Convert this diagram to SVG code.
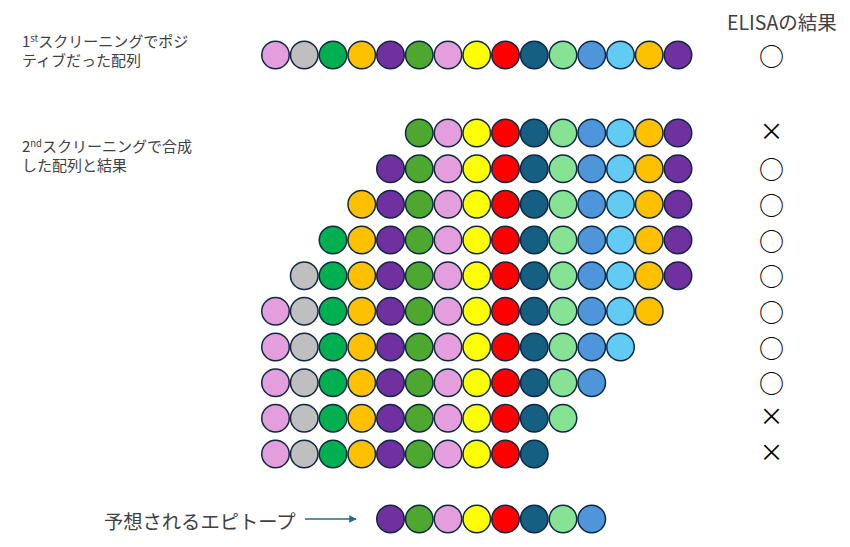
<svg xmlns="http://www.w3.org/2000/svg" width="850" height="547" viewBox="0 0 850 547">
<style>
text{font-family:"Noto Sans CJK JP","Noto Sans",sans-serif;fill:#404040}
.lbl{font-size:15px}
.mk{font-size:25px;fill:#000;text-anchor:middle}
.x{font-size:24px;fill:#000;text-anchor:middle}
circle{stroke:#0E2841;stroke-width:1.5}
.pk{fill:#E49EDD}.gy{fill:#BFBFBF}.gn{fill:#00B050}.or{fill:#FFC000}.pu{fill:#7030A0}.gr{fill:#4EA72E}
.ye{fill:#FFFF00}.rd{fill:#FF0000}.db{fill:#156082}.lg{fill:#86E394}.bl{fill:#4E95D9}.lb{fill:#61CBF3}
</style>
<defs>
<marker id="ah" viewBox="0 0 10 10" refX="9" refY="5" markerWidth="5" markerHeight="5" orient="auto"><path d="M0,0L10,5L0,10z" fill="#1F6B8A"/></marker>
</defs>
<g id="labels">
<text class="lbl" x="22" y="46.5">1<tspan font-size="9.5" dy="-5">st</tspan><tspan dy="5">スクリーニングでポジ</tspan></text>
<text class="lbl" x="22" y="65.5">ティブだった配列</text>
<text class="lbl" x="22" y="152">2<tspan font-size="9.5" dy="-5">nd</tspan><tspan dy="5">スクリーニングで合成</tspan></text>
<text class="lbl" x="22" y="171">した配列と結果</text>
<text x="727" y="30" font-size="19.5">ELISAの結果</text>
<text x="104" y="529" font-size="19.3">予想されるエピトープ</text>
</g>
<g id="connectors">
<line x1="305" y1="519" x2="356" y2="519" stroke="#1F6B8A" stroke-width="1.5" marker-end="url(#ah)"/>
</g>
<g id="row0">
<circle cx="275.5" cy="55" r="13.75" class="pk"/><circle cx="304.25" cy="55" r="13.75" class="gy"/><circle cx="333" cy="55" r="13.75" class="gn"/><circle cx="361.75" cy="55" r="13.75" class="or"/><circle cx="390.5" cy="55" r="13.75" class="pu"/><circle cx="419.25" cy="55" r="13.75" class="gr"/><circle cx="448" cy="55" r="13.75" class="pk"/><circle cx="476.75" cy="55" r="13.75" class="ye"/><circle cx="505.5" cy="55" r="13.75" class="rd"/><circle cx="534.25" cy="55" r="13.75" class="db"/><circle cx="563" cy="55" r="13.75" class="lg"/><circle cx="591.75" cy="55" r="13.75" class="bl"/><circle cx="620.5" cy="55" r="13.75" class="lb"/><circle cx="649.25" cy="55" r="13.75" class="or"/><circle cx="678" cy="55" r="13.75" class="pu"/>
</g>
<g id="row1">
<circle cx="419.25" cy="133" r="13.75" class="gr"/><circle cx="448" cy="133" r="13.75" class="pk"/><circle cx="476.75" cy="133" r="13.75" class="ye"/><circle cx="505.5" cy="133" r="13.75" class="rd"/><circle cx="534.25" cy="133" r="13.75" class="db"/><circle cx="563" cy="133" r="13.75" class="lg"/><circle cx="591.75" cy="133" r="13.75" class="bl"/><circle cx="620.5" cy="133" r="13.75" class="lb"/><circle cx="649.25" cy="133" r="13.75" class="or"/><circle cx="678" cy="133" r="13.75" class="pu"/>
</g>
<g id="row2">
<circle cx="390.5" cy="168.7" r="13.75" class="pu"/><circle cx="419.25" cy="168.7" r="13.75" class="gr"/><circle cx="448" cy="168.7" r="13.75" class="pk"/><circle cx="476.75" cy="168.7" r="13.75" class="ye"/><circle cx="505.5" cy="168.7" r="13.75" class="rd"/><circle cx="534.25" cy="168.7" r="13.75" class="db"/><circle cx="563" cy="168.7" r="13.75" class="lg"/><circle cx="591.75" cy="168.7" r="13.75" class="bl"/><circle cx="620.5" cy="168.7" r="13.75" class="lb"/><circle cx="649.25" cy="168.7" r="13.75" class="or"/><circle cx="678" cy="168.7" r="13.75" class="pu"/>
</g>
<g id="row3">
<circle cx="361.75" cy="204.3" r="13.75" class="or"/><circle cx="390.5" cy="204.3" r="13.75" class="pu"/><circle cx="419.25" cy="204.3" r="13.75" class="gr"/><circle cx="448" cy="204.3" r="13.75" class="pk"/><circle cx="476.75" cy="204.3" r="13.75" class="ye"/><circle cx="505.5" cy="204.3" r="13.75" class="rd"/><circle cx="534.25" cy="204.3" r="13.75" class="db"/><circle cx="563" cy="204.3" r="13.75" class="lg"/><circle cx="591.75" cy="204.3" r="13.75" class="bl"/><circle cx="620.5" cy="204.3" r="13.75" class="lb"/><circle cx="649.25" cy="204.3" r="13.75" class="or"/><circle cx="678" cy="204.3" r="13.75" class="pu"/>
</g>
<g id="row4">
<circle cx="333" cy="240" r="13.75" class="gn"/><circle cx="361.75" cy="240" r="13.75" class="or"/><circle cx="390.5" cy="240" r="13.75" class="pu"/><circle cx="419.25" cy="240" r="13.75" class="gr"/><circle cx="448" cy="240" r="13.75" class="pk"/><circle cx="476.75" cy="240" r="13.75" class="ye"/><circle cx="505.5" cy="240" r="13.75" class="rd"/><circle cx="534.25" cy="240" r="13.75" class="db"/><circle cx="563" cy="240" r="13.75" class="lg"/><circle cx="591.75" cy="240" r="13.75" class="bl"/><circle cx="620.5" cy="240" r="13.75" class="lb"/><circle cx="649.25" cy="240" r="13.75" class="or"/><circle cx="678" cy="240" r="13.75" class="pu"/>
</g>
<g id="row5">
<circle cx="304.25" cy="275.7" r="13.75" class="gy"/><circle cx="333" cy="275.7" r="13.75" class="gn"/><circle cx="361.75" cy="275.7" r="13.75" class="or"/><circle cx="390.5" cy="275.7" r="13.75" class="pu"/><circle cx="419.25" cy="275.7" r="13.75" class="gr"/><circle cx="448" cy="275.7" r="13.75" class="pk"/><circle cx="476.75" cy="275.7" r="13.75" class="ye"/><circle cx="505.5" cy="275.7" r="13.75" class="rd"/><circle cx="534.25" cy="275.7" r="13.75" class="db"/><circle cx="563" cy="275.7" r="13.75" class="lg"/><circle cx="591.75" cy="275.7" r="13.75" class="bl"/><circle cx="620.5" cy="275.7" r="13.75" class="lb"/><circle cx="649.25" cy="275.7" r="13.75" class="or"/><circle cx="678" cy="275.7" r="13.75" class="pu"/>
</g>
<g id="row6">
<circle cx="275.5" cy="311.3" r="13.75" class="pk"/><circle cx="304.25" cy="311.3" r="13.75" class="gy"/><circle cx="333" cy="311.3" r="13.75" class="gn"/><circle cx="361.75" cy="311.3" r="13.75" class="or"/><circle cx="390.5" cy="311.3" r="13.75" class="pu"/><circle cx="419.25" cy="311.3" r="13.75" class="gr"/><circle cx="448" cy="311.3" r="13.75" class="pk"/><circle cx="476.75" cy="311.3" r="13.75" class="ye"/><circle cx="505.5" cy="311.3" r="13.75" class="rd"/><circle cx="534.25" cy="311.3" r="13.75" class="db"/><circle cx="563" cy="311.3" r="13.75" class="lg"/><circle cx="591.75" cy="311.3" r="13.75" class="bl"/><circle cx="620.5" cy="311.3" r="13.75" class="lb"/><circle cx="649.25" cy="311.3" r="13.75" class="or"/>
</g>
<g id="row7">
<circle cx="275.5" cy="347" r="13.75" class="pk"/><circle cx="304.25" cy="347" r="13.75" class="gy"/><circle cx="333" cy="347" r="13.75" class="gn"/><circle cx="361.75" cy="347" r="13.75" class="or"/><circle cx="390.5" cy="347" r="13.75" class="pu"/><circle cx="419.25" cy="347" r="13.75" class="gr"/><circle cx="448" cy="347" r="13.75" class="pk"/><circle cx="476.75" cy="347" r="13.75" class="ye"/><circle cx="505.5" cy="347" r="13.75" class="rd"/><circle cx="534.25" cy="347" r="13.75" class="db"/><circle cx="563" cy="347" r="13.75" class="lg"/><circle cx="591.75" cy="347" r="13.75" class="bl"/><circle cx="620.5" cy="347" r="13.75" class="lb"/>
</g>
<g id="row8">
<circle cx="275.5" cy="382.7" r="13.75" class="pk"/><circle cx="304.25" cy="382.7" r="13.75" class="gy"/><circle cx="333" cy="382.7" r="13.75" class="gn"/><circle cx="361.75" cy="382.7" r="13.75" class="or"/><circle cx="390.5" cy="382.7" r="13.75" class="pu"/><circle cx="419.25" cy="382.7" r="13.75" class="gr"/><circle cx="448" cy="382.7" r="13.75" class="pk"/><circle cx="476.75" cy="382.7" r="13.75" class="ye"/><circle cx="505.5" cy="382.7" r="13.75" class="rd"/><circle cx="534.25" cy="382.7" r="13.75" class="db"/><circle cx="563" cy="382.7" r="13.75" class="lg"/><circle cx="591.75" cy="382.7" r="13.75" class="bl"/>
</g>
<g id="row9">
<circle cx="275.5" cy="418.3" r="13.75" class="pk"/><circle cx="304.25" cy="418.3" r="13.75" class="gy"/><circle cx="333" cy="418.3" r="13.75" class="gn"/><circle cx="361.75" cy="418.3" r="13.75" class="or"/><circle cx="390.5" cy="418.3" r="13.75" class="pu"/><circle cx="419.25" cy="418.3" r="13.75" class="gr"/><circle cx="448" cy="418.3" r="13.75" class="pk"/><circle cx="476.75" cy="418.3" r="13.75" class="ye"/><circle cx="505.5" cy="418.3" r="13.75" class="rd"/><circle cx="534.25" cy="418.3" r="13.75" class="db"/><circle cx="563" cy="418.3" r="13.75" class="lg"/>
</g>
<g id="row10">
<circle cx="275.5" cy="454" r="13.75" class="pk"/><circle cx="304.25" cy="454" r="13.75" class="gy"/><circle cx="333" cy="454" r="13.75" class="gn"/><circle cx="361.75" cy="454" r="13.75" class="or"/><circle cx="390.5" cy="454" r="13.75" class="pu"/><circle cx="419.25" cy="454" r="13.75" class="gr"/><circle cx="448" cy="454" r="13.75" class="pk"/><circle cx="476.75" cy="454" r="13.75" class="ye"/><circle cx="505.5" cy="454" r="13.75" class="rd"/><circle cx="534.25" cy="454" r="13.75" class="db"/>
</g>
<g id="epitope">
<circle cx="390.5" cy="519" r="13.75" class="pu"/><circle cx="419.25" cy="519" r="13.75" class="gr"/><circle cx="448" cy="519" r="13.75" class="pk"/><circle cx="476.75" cy="519" r="13.75" class="ye"/><circle cx="505.5" cy="519" r="13.75" class="rd"/><circle cx="534.25" cy="519" r="13.75" class="db"/><circle cx="563" cy="519" r="13.75" class="lg"/><circle cx="591.75" cy="519" r="13.75" class="bl"/>
</g>
<g id="results">
<text class="mk" x="771.5" y="65.5">○</text>
<text class="x" x="771.5" y="140">×</text>
<text class="mk" x="771.5" y="179.2">○</text>
<text class="mk" x="771.5" y="214.8">○</text>
<text class="mk" x="771.5" y="250.5">○</text>
<text class="mk" x="771.5" y="286.2">○</text>
<text class="mk" x="771.5" y="321.8">○</text>
<text class="mk" x="771.5" y="357.5">○</text>
<text class="mk" x="771.5" y="393.2">○</text>
<text class="x" x="771.5" y="425.3">×</text>
<text class="x" x="771.5" y="461">×</text>
</g>
</svg>
